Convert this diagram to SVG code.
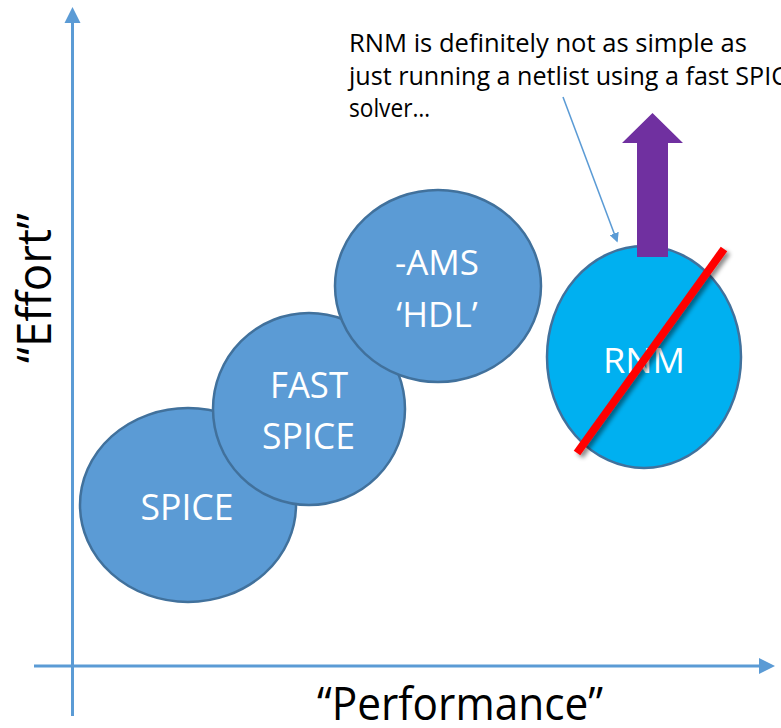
<svg xmlns="http://www.w3.org/2000/svg" width="781" height="728" viewBox="0 0 781 728">
<style>
.node{fill:#5B9BD5;stroke:#41719C;stroke-width:2.5}
.lbl{fill:#ffffff;font-family:"Open Sans","Liberation Sans",sans-serif;text-anchor:middle}
.txt{fill:#000000;font-family:"Open Sans","Liberation Sans",sans-serif}
.axis{stroke:#5B9BD5;stroke-width:3;fill:none}
</style>
<defs>
<marker id="ah" markerWidth="6" markerHeight="6" refX="5" refY="3" orient="auto" markerUnits="strokeWidth"><path d="M0,0 L6,3 L0,6 Z" fill="#5B9BD5"/></marker>
<filter id="sh" x="-20%" y="-20%" width="140%" height="140%"><feDropShadow dx="3" dy="3" stdDeviation="2" flood-color="#000" flood-opacity="0.45"/></filter>
</defs>
<g id="connectors">
<line class="axis" x1="72.5" y1="716" x2="72.5" y2="22"/>
<polygon points="72.5,7 64.5,23 80.5,23" fill="#5B9BD5"/>
<line class="axis" x1="34" y1="666" x2="760" y2="666"/>
<polygon points="775,666 759,658 759,674" fill="#5B9BD5"/>
</g>
<g id="spice"><ellipse class="node" cx="188" cy="505" rx="108" ry="97"/><text class="lbl" x="187" y="520" font-size="37" textLength="93" lengthAdjust="spacingAndGlyphs">SPICE</text></g>
<g id="fastspice"><ellipse class="node" cx="309" cy="409" rx="96" ry="96"/><text class="lbl" x="309" y="398" font-size="37" textLength="78" lengthAdjust="spacingAndGlyphs">FAST</text><text class="lbl" x="308.5" y="449" font-size="37" textLength="93" lengthAdjust="spacingAndGlyphs">SPICE</text></g>
<g id="ams"><ellipse class="node" cx="438" cy="286" rx="103" ry="96"/><text class="lbl" x="437" y="275" font-size="35">-AMS</text><text class="lbl" x="437" y="327" font-size="35">‘HDL’</text></g>
<g id="rnm"><ellipse cx="644" cy="357" rx="97" ry="111" fill="#00B0F0" stroke="#41719C" stroke-width="2.5"/><text class="lbl" x="644" y="373" font-size="35" textLength="82" lengthAdjust="spacingAndGlyphs">RNM</text></g>
<g id="effort-arrow"><polygon points="637,257 637,143 622,143 652.5,113 683,143 668,143 668,257" fill="#7030A0"/></g>
<g id="strike"><line x1="577" y1="453" x2="724" y2="249" stroke="#FF0000" stroke-width="8" filter="url(#sh)"/></g>
<g id="callout">
<text class="txt" font-size="26"><tspan x="349" y="52" textLength="398" lengthAdjust="spacingAndGlyphs">RNM is definitely not as simple as</tspan><tspan x="349" y="85" textLength="452" lengthAdjust="spacingAndGlyphs">just running a netlist using a fast SPICE</tspan><tspan x="349" y="117" textLength="81" lengthAdjust="spacingAndGlyphs">solver…</tspan></text>
<line x1="563" y1="97" x2="617" y2="241" stroke="#5B9BD5" stroke-width="1.6" marker-end="url(#ah)"/>
</g>
<g id="labels">
<text class="txt" x="51" y="288" font-size="48" text-anchor="middle" transform="rotate(-90 51 288)" textLength="150" lengthAdjust="spacingAndGlyphs">“Effort”</text>
<text class="txt" x="317" y="720" font-size="46" textLength="286" lengthAdjust="spacingAndGlyphs">“Performance”</text>
</g>
</svg>
